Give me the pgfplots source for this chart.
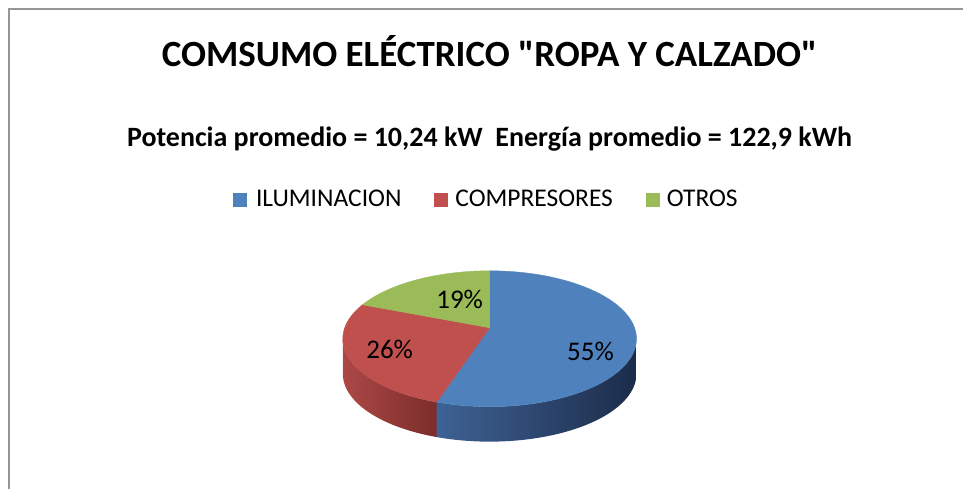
\documentclass[border=0pt]{standalone}
\usepackage{pgfplots}
\pgfplotsset{compat=1.18}
\usepackage{fontspec}
\setmainfont{Carlito}
\newfontfamily\plaincarlito{Carlito}
\definecolor{cblue}{RGB}{79,129,189}
\definecolor{cred}{RGB}{192,80,77}
\definecolor{cgreen}{RGB}{155,187,89}
\definecolor{bsideL}{RGB}{62,98,148}
\definecolor{bsideR}{RGB}{28,44,74}
\definecolor{rsideL}{RGB}{172,72,70}
\definecolor{rsideR}{RGB}{122,44,43}
\definecolor{framegray}{RGB}{150,150,150}
% data (percent)
\def\vIlum{55}
\def\vComp{26}
\def\vOtros{19}
\pgfmathsetmacro{\aA}{90}
\pgfmathsetmacro{\aB}{90-3.6*\vIlum}
\pgfmathsetmacro{\aC}{\aB-3.6*\vComp}
\pgfmathsetmacro{\aD}{\aC-3.6*\vOtros}
\pgfmathsetmacro{\aBr}{\aB+361}
\begin{document}
\begin{tikzpicture}
\begin{axis}[
  x=1pt, y=1pt, scale only axis,
  xmin=0, xmax=964, ymin=0, ymax=489,
  hide axis, clip=false,
  declare function={
    pX(\t)=490+145*cos(\t)/(1+0.162*sin(\t));
    pY(\t)=161+66.2*sin(\t)/(1+0.162*sin(\t));
  },
]
\path (axis cs:0,0) rectangle (axis cs:964,489);
% frame
\draw[framegray, line width=1.5pt] (axis cs:9,0) -- (axis cs:9,480) -- (axis cs:964,480);
% sides
\addplot[draw=none, left color=rsideL, right color=rsideR, domain=0:2, samples=161]
  ({pX(x<=1 ? 189.3+x*(\aBr-189.3) : \aBr-(x-1)*(\aBr-189.3))},
   {pY(x<=1 ? 189.3+x*(\aBr-189.3) : \aBr-(x-1)*(\aBr-189.3)) - (x<=1 ? 0 : 35)}) -- cycle;
\addplot[draw=none, left color=bsideL, right color=bsideR, domain=0:2, samples=201]
  ({pX(x<=1 ? \aB+x*(-9.3-\aB) : -9.3-(x-1)*(-9.3-\aB))},
   {pY(x<=1 ? \aB+x*(-9.3-\aB) : -9.3-(x-1)*(-9.3-\aB)) - (x<=1 ? 0 : 35)}) -- cycle;
% tops
\addplot[draw=cblue, line width=0.4pt, fill=cblue, domain=\aB:\aA, samples=120] ({pX(x)},{pY(x)}) -- (axis cs:490,161) -- cycle;
\addplot[draw=cred, line width=0.4pt, fill=cred, domain=\aC:\aB, samples=80] ({pX(x)},{pY(x)}) -- (axis cs:490,161) -- cycle;
\addplot[draw=cgreen, line width=0.4pt, fill=cgreen, domain=\aD:\aC, samples=60] ({pX(x)},{pY(x)}) -- (axis cs:490,161) -- cycle;
% labels
\node[font=\fontsize{27}{30}\selectfont] at (axis cs:591,137) {\vIlum\%};
\node[font=\fontsize{27}{30}\selectfont] at (axis cs:390,139) {\vComp\%};
\node[font=\fontsize{27}{30}\selectfont] at (axis cs:460,189) {\vOtros\%};
% titles
\node[anchor=base, font=\plaincarlito\bfseries\fontsize{37}{40}\selectfont] at (axis cs:490,422) {COMSUMO ELÉCTRICO "ROPA Y CALZADO"};
\node[anchor=base, font=\bfseries\fontsize{28}{32}\selectfont] at (axis cs:490,342) {Potencia promedio = 10,24 kW\ \ Energía promedio = 122,9 kWh};
% legend
\node[anchor=base west, font=\fontsize{25.5}{30}\selectfont, inner sep=0pt] (L) at (axis cs:233,282)
  {\textcolor{cblue}{\rule{14pt}{14pt}}\hspace{9pt}ILUMINACION\hspace{33pt}\textcolor{cred}{\rule{14pt}{14pt}}\hspace{7pt}COMPRESORES\hspace{33pt}\textcolor{cgreen}{\rule{14pt}{14pt}}\hspace{7pt}OTROS};
\end{axis}
\end{tikzpicture}
\end{document}
